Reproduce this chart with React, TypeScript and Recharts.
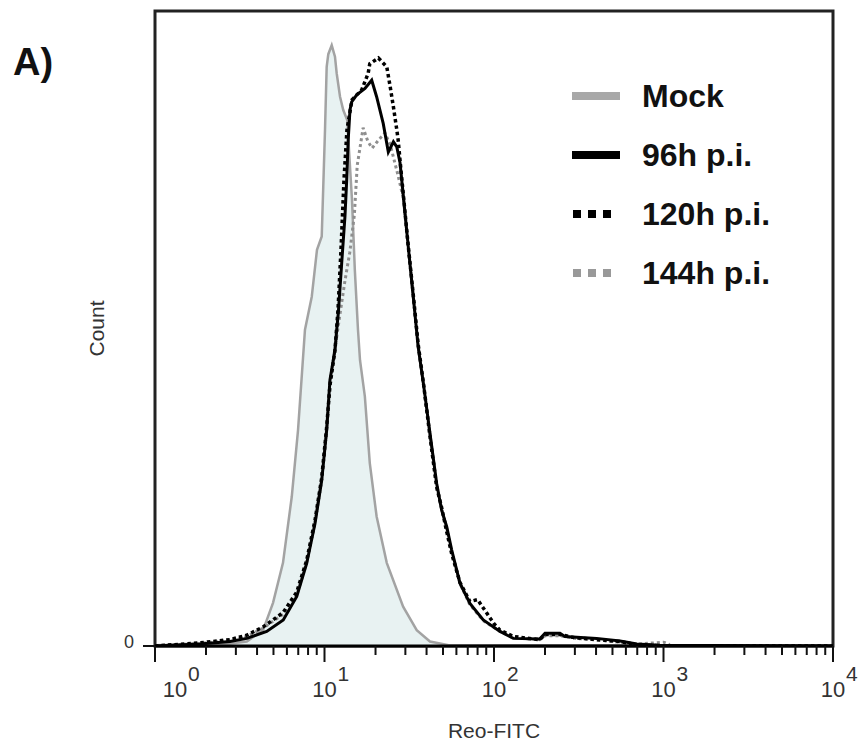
import { Area, ComposedChart, Label, Legend, Line, ReferenceArea, XAxis, YAxis } from 'recharts'

const FONT = '"Liberation Sans", Arial, Helvetica, sans-serif'

const SERIES_NAMES = ['Mock', '96h p.i.', '120h p.i.', '144h p.i.']
const DECADES = [1, 10, 100, 1000]
const X_MAX = 10000

// [Reo-FITC intensity, count]
const MOCK = [
    [1, 0.1], [1.84, 0.3], [2.77, 0.4], [3.48, 0.7], [4.34, 2.5], [4.97, 6.8], [5.69, 13.1],
    [6.41, 23.5], [6.98, 34.0], [7.67, 49.8], [8.41, 55.0], [9.03, 62.4], [9.63, 64.5],
    [10.07, 81.3], [10.3, 91.2], [10.53, 93.2], [11.03, 94.6], [11.53, 92.8], [11.8, 90.2],
    [12.35, 86.5], [12.9, 84.4], [13.63, 82.8], [13.95, 78.1], [14.53, 70.2], [15.1, 59.2],
    [15.76, 49.8], [16.2, 45.0], [17.3, 39.3], [18.5, 28.8], [20.3, 20.4], [23.3, 13.1],
    [29.1, 6.2], [35.0, 2.5], [41.9, 0.7], [55, 0.1], [100, 0],
]

const H96 = [
    [1, 0], [1.84, 0.3], [2.77, 0.7], [3.48, 1.2], [4.56, 2.3], [5.71, 4.1], [6.86, 7.8],
    [7.85, 13.0], [8.79, 19.3], [9.63, 26.1], [10.3, 34.0], [10.77, 41.9], [11.53, 46.6],
    [11.8, 49.8], [12.06, 52.4], [12.63, 60.3], [13.2, 67.6], [13.52, 73.4], [13.8, 79.7],
    [14.13, 84.4], [14.47, 85.7], [15.49, 86.8], [17.33, 87.8], [18.99, 89.1], [20.3, 86.5],
    [22.2, 82.3], [23.8, 77.8], [25.5, 79.4], [26.7, 78.6], [27.9, 76.1], [29.2, 70.8],
    [31.2, 62.9], [33.4, 55.0], [35.7, 47.1], [38.3, 41.4], [41.9, 33.5], [45.9, 25.6],
    [49.1, 21.4], [52.6, 18.8], [56.3, 15.1], [63.0, 9.9], [72.1, 6.7], [86.4, 4.1],
    [108.5, 2.3], [130, 1.2], [186, 1.1], [200, 2.0], [245, 2.0], [262, 1.5], [403, 1.2],
    [554, 0.8], [634, 0.5], [695, 0.3], [950, 0.1], [10000, 0],
]

const H120 = [
    [1, 0], [1.84, 0.5], [2.77, 1.0], [3.48, 1.7], [4.34, 3.0], [4.97, 4.1], [5.71, 5.3],
    [6.86, 8.5], [7.85, 13.5], [8.79, 19.8], [9.63, 26.5], [10.3, 34.5], [10.77, 41.0],
    [11.53, 46.6], [12.01, 52.9], [12.51, 62.4], [13.03, 73.4], [13.57, 81.3], [14.53, 86.0],
    [16.6, 87.6], [18.1, 90.2], [18.5, 91.7], [20.8, 92.6], [23.3, 91.2], [24.4, 88.1],
    [25.5, 84.9], [26.7, 81.3], [27.2, 79.7], [27.9, 76.5], [29.2, 71.0], [31.2, 63.0],
    [33.4, 55.3], [35.7, 47.5], [38.3, 41.5], [41.9, 33.0], [45.9, 25.0], [49.1, 21.8],
    [52.6, 18.0], [56.3, 14.5], [63.0, 10.0], [72.1, 7.0], [80, 7.3], [86.4, 6.0], [100, 3.5],
    [108.5, 2.5], [130, 1.5], [186, 1.0], [200, 1.8], [245, 1.8], [300, 1.3], [403, 1.0],
    [554, 0.7], [634, 0.4], [700, 0.2], [1000, 0], [10000, 0],
]

const H144 = [
    [1, 0], [1.84, 0.4], [2.77, 0.9], [3.48, 1.5], [4.34, 2.8], [4.97, 3.9], [5.71, 5.0],
    [6.86, 8.0], [7.85, 13.2], [8.79, 19.5], [9.63, 26.3], [10.3, 34.2], [10.77, 41.5],
    [11.53, 46.8], [12.3, 52.0], [13.2, 57.5], [14.1, 62.0], [15.0, 67.9], [15.6, 75.7],
    [16.9, 81.6], [18.0, 79.5], [19.1, 78.4], [21.0, 79.8], [22.7, 80.8], [24.4, 79.0],
    [27.1, 74.2], [29.2, 70.5], [31.2, 62.8], [33.4, 55.0], [35.7, 47.3], [38.3, 41.3],
    [41.9, 33.3], [45.9, 25.3], [49.1, 21.6], [52.6, 18.5], [56.3, 14.8], [63.0, 9.8],
    [72.1, 6.5], [86.4, 4.0], [108.5, 2.3], [130, 1.3], [186, 1.0], [200, 1.6], [245, 1.6],
    [300, 1.2], [403, 1.0], [554, 0.6], [700, 0.3], [1000, 0.6], [1070, 0.3], [1100, 0],
    [10000, 0],
]

const toPoints = (rows: number[][]) => rows.map(([x, y]) => ({ x, y }))

const X_TICKS = DECADES.flatMap((d) => [1, 2, 3, 4, 5, 6, 7, 8, 9].map((m) => m * d)).concat(X_MAX)

function LogTick({ x, y, payload }: any) {
    const v = payload.value as number
    const exp = Math.round(Math.log10(v))
    const major = Math.abs(Math.log10(v) - exp) < 1e-6
    const lx = x + (exp === 0 ? 20 : 0)
    return (
        <g>
            <line x1={x} x2={x} y1={y} y2={y + (major ? 16 : 9)} stroke="#111" strokeWidth={2} />
            {major && (
                <>
                    <text x={lx} y={y + 51} textAnchor="middle" fontFamily={FONT} fontSize={22} fill="#333">
                        10
                    </text>
                    <text x={lx + 13} y={y + 35} textAnchor="start" fontFamily={FONT} fontSize={21} fill="#333">
                        {exp}
                    </text>
                </>
            )}
        </g>
    )
}

function CountTick({ x, y, payload }: any) {
    return (
        <text x={x} y={y + 2} textAnchor="end" fontFamily={FONT} fontSize={18} fill="#333">
            {payload.value}
        </text>
    )
}

function LegendSample({ i }: { i: number }) {
    if (i < 2) {
        return <line x1={0} x2={48} y1={6} y2={6} stroke={i === 0 ? '#a8a8a8' : '#000'} strokeWidth={8} />
    }
    return (
        <line
            x1={1}
            x2={42}
            y1={6}
            y2={6}
            stroke={i === 2 ? '#000' : '#999'}
            strokeWidth={8}
            strokeDasharray="8 7"
        />
    )
}

function SeriesLegend() {
    return (
        <div>
            {SERIES_NAMES.map((name, i) => (
                <div key={name} style={{ display: 'flex', alignItems: 'center', height: 59 }}>
                    <svg width={50} height={12}>
                        <LegendSample i={i} />
                    </svg>
                    <span
                        style={{
                            marginLeft: 20,
                            fontFamily: FONT,
                            fontWeight: 'bold',
                            fontSize: 32,
                            lineHeight: 1,
                            color: '#111',
                        }}
                    >
                        {name}
                    </span>
                </div>
            ))}
        </div>
    )
}

export default function App() {
    return (
        <div style={{ position: 'absolute', left: 0, top: 0, width: 859, height: 746, background: '#fff' }}>
            <div
                style={{
                    position: 'absolute',
                    left: 13,
                    top: 43,
                    fontFamily: FONT,
                    fontWeight: 'bold',
                    fontSize: 38,
                    lineHeight: 1,
                    color: '#111',
                }}
            >
                A)
            </div>
            <ComposedChart width={859} height={746} margin={{ top: 11, right: 26, bottom: 0, left: 75 }}>
                <XAxis
                    type="number"
                    dataKey="x"
                    scale="log"
                    domain={[1, X_MAX]}
                    ticks={X_TICKS}
                    interval={0}
                    allowDataOverflow
                    height={100}
                    tickSize={0}
                    tickMargin={0}
                    tickLine={false}
                    tick={<LogTick />}
                    axisLine={{ stroke: '#000', strokeWidth: 3 }}
                >
                    <Label
                        value="Reo-FITC"
                        position="insideBottom"
                        offset={8}
                        style={{ fontFamily: FONT, fontSize: 21, fill: '#333' }}
                    />
                </XAxis>
                <YAxis
                    type="number"
                    domain={[0, 100]}
                    ticks={[0]}
                    allowDataOverflow
                    width={80}
                    tickSize={12}
                    tickMargin={9}
                    tickLine={{ stroke: '#111', strokeWidth: 2 }}
                    axisLine={false}
                    tick={<CountTick />}
                >
                    <Label
                        value="Count"
                        angle={-90}
                        position="insideLeft"
                        offset={22}
                        style={{ fontFamily: FONT, fontSize: 21, fill: '#333', textAnchor: 'middle' }}
                    />
                </YAxis>
                <ReferenceArea x1={1} x2={X_MAX} y1={0} y2={100} fill="none" stroke="#222" strokeWidth={3} />
                <Area
                    data={toPoints(MOCK)}
                    dataKey="y"
                    type="linear"
                    stroke="#a3a3a3"
                    strokeWidth={2.5}
                    fill="#e8f2f2"
                    fillOpacity={1}
                    isAnimationActive={false}
                />
                <Line
                    data={toPoints(H144)}
                    dataKey="y"
                    type="linear"
                    stroke="#8f8f8f"
                    strokeWidth={3}
                    strokeDasharray="3 3"
                    dot={false}
                    isAnimationActive={false}
                />
                <Line
                    data={toPoints(H96)}
                    dataKey="y"
                    type="linear"
                    stroke="#000"
                    strokeWidth={3}
                    dot={false}
                    isAnimationActive={false}
                />
                <Line
                    data={toPoints(H120)}
                    dataKey="y"
                    type="linear"
                    stroke="#000"
                    strokeWidth={3.5}
                    strokeDasharray="3.5 3"
                    dot={false}
                    isAnimationActive={false}
                />
                <Legend
                    layout="horizontal"
                    verticalAlign="middle"
                    align="center"
                    wrapperStyle={{ left: 572, top: 66, width: 270 }}
                    content={() => <SeriesLegend />}
                />
            </ComposedChart>
        </div>
    )
}
